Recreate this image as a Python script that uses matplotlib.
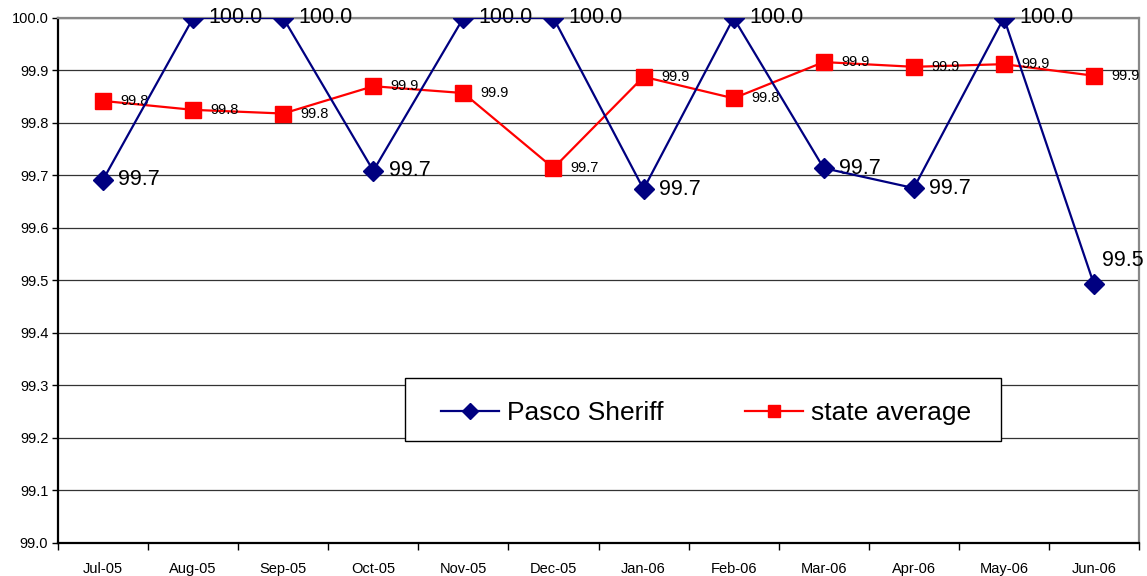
import numpy as np
import matplotlib.pyplot as plt
from matplotlib.patches import Rectangle
from matplotlib.ticker import FixedLocator

# === DATA ===
months = ['Jul-05', 'Aug-05', 'Sep-05', 'Oct-05', 'Nov-05', 'Dec-05',
          'Jan-06', 'Feb-06', 'Mar-06', 'Apr-06', 'May-06', 'Jun-06']
pasco = [99.692, 100.0, 100.0, 99.709, 100.0, 100.0,
         99.674, 100.0, 99.714, 99.676, 100.0, 99.493]
state = [99.842, 99.825, 99.818, 99.870, 99.857, 99.714,
         99.888, 99.847, 99.916, 99.907, 99.912, 99.890]
y_ticks = [99.0, 99.1, 99.2, 99.3, 99.4, 99.5, 99.6, 99.7, 99.8, 99.9, 100.0]

# === MATPLOTLIB CONFIG ===
plt.rcParams.update({
    "font.family": ["Liberation Sans", "DejaVu Sans"],
    "font.size": 10,
})

fig, ax = plt.subplots(figsize=(11.47, 5.76), dpi=100)
fig.subplots_adjust(left=0.0506, right=0.993, bottom=0.0573, top=0.9688)

x = np.arange(len(months))

ax.plot(x, pasco, color='#000080', marker='D', markersize=10, linewidth=1.6,
        label='Pasco Sheriff', zorder=4)
ax.plot(x, state, color='#ff0000', marker='s', markersize=11, linewidth=1.6,
        label='state average', zorder=3)

# data labels
for i, v in enumerate(pasco):
    if i == len(pasco) - 1:
        ax.annotate(f"{v:.1f}", (x[i], v), xytext=(6, 17), textcoords='offset points',
                    fontsize=15.5, va='center', ha='left')
    else:
        ax.annotate(f"{v:.1f}", (x[i], v), xytext=(11, 0), textcoords='offset points',
                    fontsize=15.5, va='center', ha='left')
for i, v in enumerate(state):
    ax.annotate(f"{v:.1f}", (x[i], v), xytext=(12.5, 0), textcoords='offset points',
                fontsize=10.5, va='center', ha='left')

# axes
ax.set_xlim(-0.5, len(months) - 0.5)
ax.set_ylim(99.0, 100.0)
ax.set_yticks(y_ticks)
ax.set_yticklabels([f"{t:.1f}" for t in y_ticks], fontsize=10.5)
ax.set_xticks(x)
ax.set_xticklabels(months, fontsize=10.5)
ax.xaxis.set_minor_locator(FixedLocator(np.arange(-0.5, len(months), 1.0)))
ax.tick_params(axis='x', which='major', length=0, pad=14)
ax.tick_params(axis='x', which='minor', length=5, width=1, direction='out')
ax.tick_params(axis='y', length=4, width=1, direction='out', pad=3)

ax.yaxis.grid(True, color='#333333', linewidth=0.9)
ax.set_axisbelow(True)
for side in ['left', 'bottom']:
    ax.spines[side].set_color('black')
    ax.spines[side].set_linewidth(1.6)
for side in ['top', 'right']:
    ax.spines[side].set_color('#888888')
    ax.spines[side].set_linewidth(1.6)

# legend box drawn separately, legend entries centred inside it
box = Rectangle((0.321, 0.194), 0.551, 0.12, transform=ax.transAxes,
                facecolor='white', edgecolor='black', linewidth=1.0, zorder=5)
ax.add_patch(box)
leg = ax.legend(loc='center', bbox_to_anchor=(0.5995, 0.247), ncol=2, fontsize=19,
                frameon=False, handlelength=2.2, columnspacing=3.1,
                handletextpad=0.3, borderaxespad=0, markerscale=0.85)
leg.set_zorder(6)

fig.savefig("out.png", dpi=100)
